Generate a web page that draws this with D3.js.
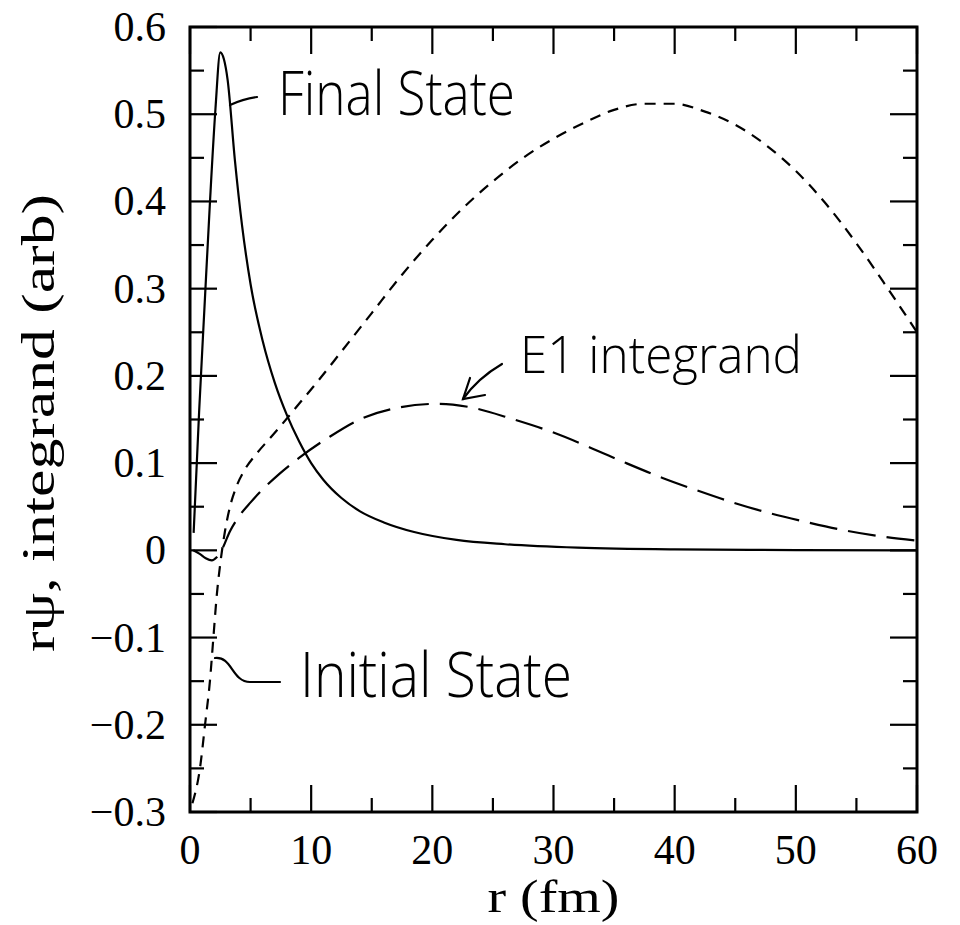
<!DOCTYPE html>
<meta charset="utf-8">
<style>
    body { margin: 0; background: #fff; }
    svg text { font-family: 'Liberation Serif', 'Times New Roman', serif; fill: #000; }
    .note { font-family: 'Open Sans', 'Lato', sans-serif; font-weight: 300; }
</style>
<svg width="960" height="925"></svg>
<script src="https://d3js.org/d3.v7.min.js"></script>
<script>

    // final state (solid)
    var rFinal = [0.3, 0.75, 1.2, 1.65, 2.1, 2.5, 2.8, 3.1, 3.7, 4.3, 5, 6, 7, 8, 9, 10, 11, 12.5, 14, 16, 18.5, 22, 26, 32, 40, 50, 60];
    var finalState = [0.02, 0.158, 0.28, 0.40, 0.506, 0.571, 0.563, 0.54, 0.448, 0.372, 0.305, 0.24, 0.192, 0.155, 0.125, 0.1, 0.081, 0.06, 0.045, 0.032, 0.021, 0.012, 0.007, 0.003, 0.001, 0.0003, 0];

    // initial state (short dashes)
    var rInitial = [0.2, 0.83, 1.24, 1.65, 1.93, 2.2, 2.5, 2.9, 3.3, 3.8, 4.5, 5.5, 6.5, 7.5, 9, 10.5, 12.5, 15, 17.5, 20, 22.5, 25, 27.5, 30, 32.5, 35, 37.5, 40, 42.5, 45, 47.5, 50, 52.5, 55, 57.5, 60];
    var initialState = [-0.29, -0.249, -0.2, -0.149, -0.1, -0.053, -0.015, 0.023, 0.05, 0.072, 0.092, 0.111, 0.127, 0.143, 0.168, 0.193, 0.228, 0.272, 0.316, 0.356, 0.392, 0.423, 0.45, 0.472, 0.49, 0.505, 0.512, 0.512, 0.503, 0.488, 0.465, 0.435, 0.397, 0.352, 0.302, 0.25];

    // E1 integrand (long dashes)
    var rE1 = [0.27, 0.8, 1.3, 1.8, 2.2, 2.6, 3.3, 4, 5, 6.3, 7.4, 9, 11.5, 14, 17, 20.5, 23.5, 26.5, 30, 33, 36, 39, 42, 45, 48, 51, 54, 57, 60];
    var e1Integrand = [0, -0.004, -0.009, -0.0115, -0.008, 0, 0.022, 0.038, 0.055, 0.074, 0.088, 0.106, 0.13, 0.15, 0.163, 0.168, 0.163, 0.151, 0.135, 0.118, 0.1, 0.083, 0.068, 0.054, 0.042, 0.032, 0.023, 0.016, 0.011];

    var xMajor = [0, 10, 20, 30, 40, 50, 60];
    var xMinor = [5, 15, 25, 35, 45, 55];
    var yMajor = [-0.3, -0.2, -0.1, 0, 0.1, 0.2, 0.3, 0.4, 0.5, 0.6];
    var yMinor = [-0.25, -0.15, -0.05, 0.05, 0.15, 0.25, 0.35, 0.45, 0.55];
    var yTickLabels = ["\u22120.3", "\u22120.2", "\u22120.1", "0", "0.1", "0.2", "0.3", "0.4", "0.5", "0.6"];

    var svg = d3.select("svg");
    var pLeft = 190, pRight = 917, pTop = 27, pBottom = 812;

    var x = d3.scaleLinear().domain([0, 60]).range([pLeft, pRight]);
    var y = d3.scaleLinear().domain([-0.3, 0.6]).range([pBottom, pTop]);

    svg.append("defs").append("clipPath").attr("id", "plot")
        .append("rect").attr("x", pLeft).attr("y", pTop)
        .attr("width", pRight - pLeft).attr("height", pBottom - pTop);

    var line = d3.line()
        .x(function (d) { return x(d[0]); })
        .y(function (d) { return y(d[1]); })
        .curve(d3.curveMonotoneX);

    var curves = svg.append("g").attr("clip-path", "url(#plot)")
        .attr("fill", "none").attr("stroke", "#000").attr("stroke-width", 2.2);

    curves.append("path").attr("d", line(d3.zip(rFinal, finalState)));
    curves.append("path").attr("d", line(d3.zip(rInitial, initialState)))
        .attr("stroke-dasharray", "11,8");
    curves.append("path").attr("d", line(d3.zip(rE1, e1Integrand)))
        .attr("stroke-dasharray", "28,11");

    // ticks on all four sides, pointing inward
    var ticks = svg.append("g").attr("stroke", "#000").attr("stroke-width", 2.2);
    function xTicks(vals, len) {
        vals.forEach(function (v) {
            ticks.append("line").attr("x1", x(v)).attr("x2", x(v)).attr("y1", pBottom).attr("y2", pBottom - len);
            ticks.append("line").attr("x1", x(v)).attr("x2", x(v)).attr("y1", pTop).attr("y2", pTop + len);
        });
    }
    function yTicks(vals, len) {
        vals.forEach(function (v) {
            ticks.append("line").attr("y1", y(v)).attr("y2", y(v)).attr("x1", pLeft).attr("x2", pLeft + len);
            ticks.append("line").attr("y1", y(v)).attr("y2", y(v)).attr("x1", pRight).attr("x2", pRight - len);
        });
    }
    xTicks(xMajor, 27);
    xTicks(xMinor, 14);
    yTicks(yMajor, 27);
    yTicks(yMinor, 14);

    svg.append("rect").attr("x", pLeft).attr("y", pTop)
        .attr("width", pRight - pLeft).attr("height", pBottom - pTop)
        .attr("fill", "none").attr("stroke", "#000").attr("stroke-width", 3);

    svg.append("g").selectAll("text").data(xMajor).enter().append("text")
        .attr("x", function (d) { return x(d); })
        .attr("y", 864)
        .attr("text-anchor", "middle")
        .style("font-size", "42px")
        .text(function (d) { return d; });

    svg.append("g").selectAll("text").data(yMajor).enter().append("text")
        .attr("x", 166)
        .attr("y", function (d) { return y(d) + 14; })
        .attr("text-anchor", "end")
        .style("font-size", "42px")
        .text(function (d, i) { return yTickLabels[i]; });

    svg.append("text")
        .attr("x", (pLeft + pRight) / 2).attr("y", 912)
        .attr("text-anchor", "middle")
        .attr("textLength", 132).attr("lengthAdjust", "spacingAndGlyphs")
        .style("font-size", "46px")
        .text("r (fm)");

    svg.append("text")
        .attr("transform", "translate(54,423) rotate(-90)")
        .attr("text-anchor", "middle")
        .attr("textLength", 458).attr("lengthAdjust", "spacingAndGlyphs")
        .style("font-size", "46px")
        .text("r\u03c8, integrand (arb)");

    // hand-drawn notes
    var notes = svg.append("g").attr("fill", "none").attr("stroke", "#000")
        .attr("stroke-width", 2.2).attr("stroke-linecap", "round");
    notes.append("path").attr("d", "M230,105 Q243,99 257,97");
    notes.append("path").attr("d", "M502,364 Q478,378 463,399");
    notes.append("path").attr("d", "M470,378 L463,399 L485,395");
    notes.append("path").attr("d", "M215,658 C232,656 232,682 250,682 L280,682");

    function note(tx, ty, w, size, s) {
        svg.append("text").attr("class", "note")
            .attr("x", tx).attr("y", ty)
            .attr("textLength", w).attr("lengthAdjust", "spacingAndGlyphs")
            .style("font-size", size + "px")
            .text(s);
    }
    note(278, 115, 237, 60, "Final State");
    note(520, 373, 282, 52, "E1 integrand");
    note(300, 697, 272, 62, "Initial State");

</script>
